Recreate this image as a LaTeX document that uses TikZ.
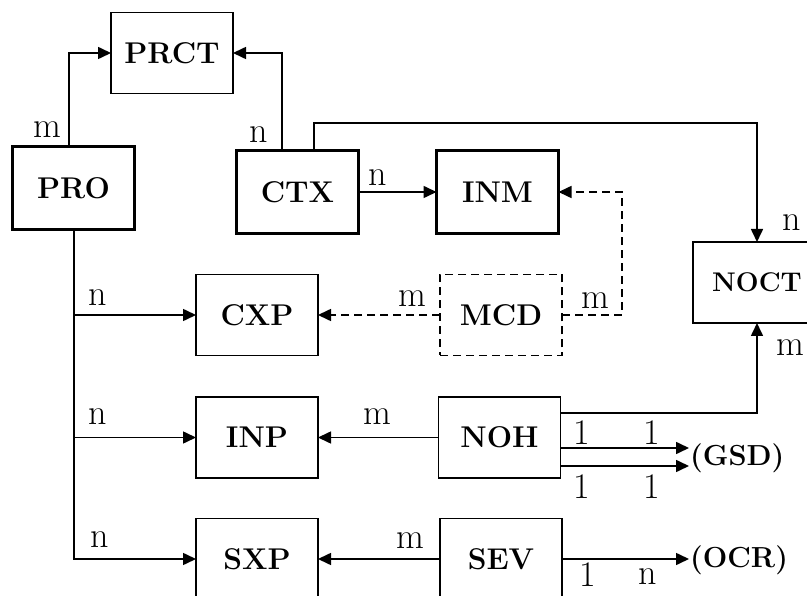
\documentclass[tikz,border=0pt]{standalone}
\usetikzlibrary{arrows.meta}
\begin{document}
\begin{tikzpicture}[x=1pt,y=-1pt,
  box/.style={draw,line width=1.6pt,minimum width=122pt,minimum height=81pt,inner sep=0pt,outer sep=0pt,font=\fontsize{30}{30}\selectfont\bfseries},
  thickbox/.style={box,line width=3pt,minimum height=83pt},
  dbox/.style={box,dash pattern=on 8pt off 5pt},
  conn/.style={line width=1.6pt},
  arr/.style={conn,-{Triangle[length=13pt,width=12pt]}},
  darr/.style={arr,dash pattern=on 8pt off 5pt},
  lbl/.style={inner sep=0pt,font=\fontsize{36}{36}\selectfont},
  ext/.style={inner sep=1pt,anchor=west,font=\fontsize{29}{29}\selectfont\bfseries}]
\useasboundingbox (0,0) rectangle (807,596);
\clip (0,0) rectangle (807,596);
% boxes
\node[box] (PRCT) at (172,53) {PRCT};
\node[thickbox] (PRO) at (73.5,188.5) {PRO};
\node[thickbox] (CTX) at (297.5,192) {CTX};
\node[thickbox] (INM) at (497.5,192) {INM};
\node[box,minimum width=128pt,font=\fontsize{27}{27}\selectfont\bfseries] (NOCT) at (757,282.5) {NOCT};
\node[box] (CXP) at (257,315) {CXP};
\node[dbox] (MCD) at (501,315) {MCD};
\node[box] (INP) at (257,437.5) {INP};
\node[box] (NOH) at (499.5,437.5) {NOH};
\node[box] (SXP) at (257,559) {SXP};
\node[box] (SEV) at (501,559) {SEV};
\node[ext] (GSD) at (689,458) {(GSD)};
\node[ext] (OCR) at (689,560) {(OCR)};
% helper coordinates
\coordinate (a1) at (69,0);
\coordinate (a2) at (282,0);
\coordinate (a3) at (314,123);
\coordinate (a4) at (622,0);
\coordinate (a5) at (74,0);
\coordinate (a6) at (0,413);
\coordinate (a7) at (0,448);
\coordinate (a8) at (0,466);
% connectors
\draw[arr] (PRO.north -| a1) |- (PRCT.west);
\draw[arr] (CTX.north -| a2) |- (PRCT.east);
\draw[arr] (CTX.north -| a3) -- (a3) -| (NOCT.north);
\draw[arr] (CTX.east) -- (INM.west);
\draw[darr] (MCD.east) -- (MCD.east -| a4) |- (INM.east);
\draw[darr] (MCD.west) -- (CXP.east);
\draw[arr] (PRO.south -| a5) |- (SXP.west);
\draw[arr] (a5 |- CXP.west) -- (CXP.west);
\draw[arr] (a5 |- INP.west) -- (INP.west);
\draw[arr] (NOH.west) -- (INP.east);
\draw[arr] (NOH.east |- a6) -| (NOCT.south);
\draw[arr] (NOH.east |- a7) -- (GSD.west |- a7);
\draw[arr] (NOH.east |- a8) -- (GSD.west |- a8);
\draw[arr] (SEV.east) -- (SEV.east -| OCR.west);
\draw[arr] (SEV.west) -- (SXP.east);
% labels
\node[lbl] (l1) at (47,130) {m};
\node[lbl] (l2) at (259,135) {n};
\node[lbl] (l3) at (792,223) {n};
\node[lbl] (l4) at (378,178) {n};
\node[lbl] (l5) at (412,299) {m};
\node[lbl] (l6) at (595,301) {m};
\node[lbl] (l7) at (98,298) {n};
\node[lbl] (l8) at (98,417) {n};
\node[lbl] (l9) at (100,540) {n};
\node[lbl] (l10) at (377,417) {m};
\node[lbl] (l18) at (410,541) {m};
\node[lbl] (l11) at (790,348) {m};
\node[lbl] (l12) at (582,433) {1};
\node[lbl] (l13) at (652,433) {1};
\node[lbl] (l14) at (582,487) {1};
\node[lbl] (l15) at (652,487) {1};
\node[lbl] (l16) at (588,575) {1};
\node[lbl] (l17) at (648,577) {n};
\end{tikzpicture}
\end{document}
